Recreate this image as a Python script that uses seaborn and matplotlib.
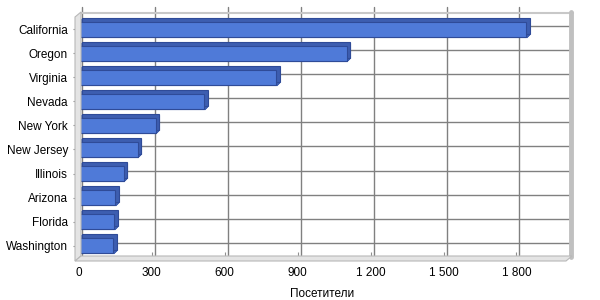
import matplotlib
matplotlib.use("Agg")
import matplotlib.pyplot as plt
import seaborn as sns
import pandas as pd
from matplotlib.transforms import ScaledTranslation
from matplotlib.patches import Polygon

states = ["California", "Oregon", "Virginia", "Nevada", "New York",
          "New Jersey", "Illinois", "Arizona", "Florida", "Washington"]
visitors = [1840, 1102, 811, 516, 316, 242, 184, 150, 146, 141]
xticks = [0, 300, 600, 900, 1200, 1500, 1800]
xticklabels = ["0", "300", "600", "900", "1 200", "1 500", "1 800"]
xlabel = "Посетители"

df = pd.DataFrame({"state": states, "visitors": visitors})

sns.set_theme(style="white")
plt.rcParams["font.family"] = ["Liberation Sans", "DejaVu Sans"]

W, H = 600, 300
fig = plt.figure(figsize=(6, 3), dpi=100)
fig.patch.set_facecolor("white")

def fx(x):
    return x / W

def fy(y):
    return 1 - y / H

ax = fig.add_axes([fx(79), fy(257.5), (565 - 79) / W, (257.5 - 17.5) / H])
ax.set_facecolor("none")

dpi = fig.dpi
def off(dx, dy):
    return ScaledTranslation(dx / dpi, dy / dpi, fig.dpi_scale_trans)

# 3D frame (walls) in figure pixel space
wall_fill = "#E4E4E4"
wall_edge = "#B8B8B8"
left_wall = Polygon([(fx(75), fy(17)), (fx(81), fy(12)), (fx(81), fy(256)), (fx(75), fy(261))],
                    closed=True, transform=fig.transFigure, facecolor=wall_fill,
                    edgecolor=wall_edge, linewidth=0.8, zorder=0)
floor = Polygon([(fx(75), fy(261)), (fx(81), fy(256)), (fx(572), fy(256)), (fx(566), fy(261))],
                closed=True, transform=fig.transFigure, facecolor=wall_fill,
                edgecolor=wall_edge, linewidth=0.8, zorder=0)
fig.patches.extend([left_wall, floor])
top_line = plt.Line2D([fx(81), fx(573)], [fy(12.5), fy(12.5)], transform=fig.transFigure,
                      color="#C8C8C8", linewidth=1.5, zorder=0)
right_wall = plt.Line2D([fx(571), fx(571)], [fy(12), fy(257)], transform=fig.transFigure,
                        color="#C0C0C0", linewidth=3.5, zorder=0)
fig.lines.extend([top_line, right_wall])

# back-wall grid
back = ax.transData + off(3, 3)
for xv in xticks:
    ax.plot([xv, xv], [-0.5 - 0.3, len(states) - 0.5], color="#808080", linewidth=1.0,
            transform=back, zorder=0.5, clip_on=False)
for i in range(len(states)):
    ax.plot([0, 2010], [i, i], color="#808080", linewidth=1.0,
            transform=back, zorder=0.5, clip_on=False)

# bar depth (extrusion) layers
face = "#4F7AD8"
side = "#3D5EB0"
edge = "#2F4B98"
steps = [0.5, 1.0, 1.5, 2.0, 2.5, 3.0, 3.5]
for k in steps:
    n_before = len(ax.patches)
    last = k == steps[-1]
    sns.barplot(data=df, x="visitors", y="state", orient="h", color=side,
                saturation=1, width=0.64, linewidth=0.8,
                edgecolor=edge if last else side, ax=ax, zorder=2)
    for p in ax.patches[n_before:]:
        p.set_transform(ax.transData + off(k, k))
        p.set_zorder(2)
        p.set_clip_on(False)

n_before = len(ax.patches)
sns.barplot(data=df, x="visitors", y="state", orient="h", color=face,
            saturation=1, width=0.64, linewidth=0.8, edgecolor=edge, ax=ax, zorder=3)
for p in ax.patches[n_before:]:
    p.set_zorder(3)
    p.set_clip_on(False)

ax.set_xlim(0, 2000)
ax.set_ylim(len(states) - 0.5, -0.5)
for s in ax.spines.values():
    s.set_visible(False)
ax.grid(False)

ax.set_xticks(xticks)
ax.set_xticklabels(xticklabels)
ax.set_yticks(range(len(states)))
ax.set_yticklabels(states)
ax.tick_params(axis="x", direction="in", length=4, width=0.8, color="#909090",
               labelsize=8.5, labelcolor="black", pad=7, bottom=True)
ax.tick_params(axis="y", direction="out", length=4, width=0.8, color="#909090",
               labelsize=8.5, labelcolor="black", pad=4, left=True)
ax.set_xlabel(xlabel, fontsize=8.5, color="black", labelpad=6)
ax.set_ylabel("")

fig.savefig("out.png", dpi=100)
